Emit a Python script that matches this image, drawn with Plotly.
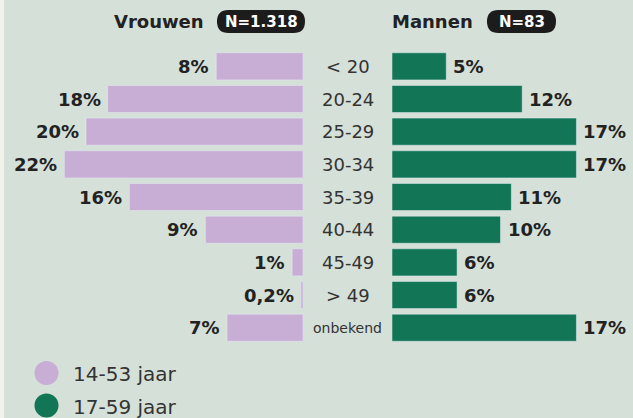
import plotly.graph_objects as go

W, H = 633, 418

categories = ["< 20", "20-24", "25-29", "30-34", "35-39", "40-44", "45-49", "> 49", "onbekend"]
vrouwen = [8, 18, 20, 22, 16, 9, 1, 0.2, 7]
mannen = [5, 12, 17, 17, 11, 10, 6, 6, 17]
title_left, n_left = "Vrouwen", "N=1.318"
title_right, n_right = "Mannen", "N=83"
legend_labels = ["14-53 jaar", "17-59 jaar"]

LAV = "#c8aed5"
GRN = "#117556"
BG = "#d5e0d8"
TXT = "#222222"
FONT = "DejaVu Sans"


def fmt(v):
    s = ("%g" % v).replace(".", ",")
    return s + "%"


def px(x):
    return x / W


def py(y):
    return 1 - y / H


scale = 10.85  # px per percent
left_end, right_start = 303, 392

fig = go.Figure()
fig.add_trace(go.Bar(y=categories, x=vrouwen, orientation="h", marker_color=LAV,
                     xaxis="x", yaxis="y", showlegend=False, hoverinfo="skip"))
fig.add_trace(go.Bar(y=categories, x=mannen, orientation="h", marker_color=GRN,
                     xaxis="x2", yaxis="y", showlegend=False, hoverinfo="skip"))

annotations = []
for c, v in zip(categories, vrouwen):
    annotations.append(dict(x=v, y=c, xref="x", yref="y", text="<b>%s</b>" % fmt(v),
                            xanchor="right", yanchor="middle", xshift=-5, showarrow=False,
                            font=dict(family=FONT, size=18, color=TXT)))
for c, v in zip(categories, mannen):
    annotations.append(dict(x=v, y=c, xref="x2", yref="y", text="<b>%s</b>" % fmt(v),
                            xanchor="left", yanchor="middle", xshift=5, showarrow=False,
                            font=dict(family=FONT, size=18, color=TXT)))
for c in categories:
    annotations.append(dict(x=px((left_end + right_start) / 2), y=c, xref="paper", yref="y",
                            text=c, xanchor="center", yanchor="middle", showarrow=False,
                            font=dict(family=FONT, size=14 if c == "onbekend" else 18, color="#333333")))

# titles
annotations.append(dict(x=px(112), y=py(22), xref="paper", yref="paper", text="<b>%s</b>" % title_left,
                        xanchor="left", yanchor="middle", showarrow=False,
                        font=dict(family=FONT, size=18, color=TXT)))
annotations.append(dict(x=px(261), y=py(22), xref="paper", yref="paper", text="<b>%s</b>" % n_left,
                        xanchor="center", yanchor="middle", showarrow=False,
                        font=dict(family=FONT, size=15, color="white")))
annotations.append(dict(x=px(390), y=py(22), xref="paper", yref="paper", text="<b>%s</b>" % title_right,
                        xanchor="left", yanchor="middle", showarrow=False,
                        font=dict(family=FONT, size=18, color=TXT)))
annotations.append(dict(x=px(521.5), y=py(22), xref="paper", yref="paper", text="<b>%s</b>" % n_right,
                        xanchor="center", yanchor="middle", showarrow=False,
                        font=dict(family=FONT, size=15, color="white")))
# legend text
for i, lab in enumerate(legend_labels):
    annotations.append(dict(x=px(71), y=py(374 + 32.5 * i), xref="paper", yref="paper", text=lab,
                            xanchor="left", yanchor="middle", showarrow=False,
                            font=dict(family=FONT, size=20, color="#333333")))


def pill(x0, x1, y0, y1, r):
    pts = [
        ("M", x0 + r, y0), ("L", x1 - r, y0), ("Q", x1, y0, x1, (y0 + y1) / 2),
        ("Q", x1, y1, x1 - r, y1), ("L", x0 + r, y1), ("Q", x0, y1, x0, (y0 + y1) / 2),
        ("Q", x0, y0, x0 + r, y0),
    ]
    s = ""
    for p in pts:
        cmd = p[0]
        coords = p[1:]
        parts = []
        for j in range(0, len(coords), 2):
            parts.append("%.5f,%.5f" % (px(coords[j]), py(coords[j + 1])))
        s += cmd + " ".join(parts) + " "
    return s + "Z"


shapes = [
    dict(type="rect", xref="paper", yref="paper", x0=0, x1=px(4), y0=0, y1=1,
         fillcolor="#f1f2ea", line_width=0, layer="below"),
    dict(type="path", xref="paper", yref="paper", path=pill(217, 305, 10, 33, 11.5),
         fillcolor="#1c1c1c", line_width=0),
    dict(type="path", xref="paper", yref="paper", path=pill(487, 556, 10, 33, 11.5),
         fillcolor="#1c1c1c", line_width=0),
]
for i, col in enumerate([LAV, GRN]):
    cy = 373 + 32.5 * i
    shapes.append(dict(type="circle", xref="paper", yref="paper",
                       x0=px(46.5 - 12), x1=px(46.5 + 12), y0=py(cy + 12), y1=py(cy - 12),
                       fillcolor=col, line_width=0))

row_top, row_pitch = 50, 32.67
fig.update_layout(
    width=W, height=H, margin=dict(l=0, r=0, t=0, b=0),
    paper_bgcolor=BG, plot_bgcolor="rgba(0,0,0,0)",
    bargap=0.17, showlegend=False,
    xaxis=dict(domain=[0, px(left_end)], range=[left_end / scale, 0], visible=False, fixedrange=True),
    xaxis2=dict(domain=[px(right_start), 1], range=[0, (W - right_start) / scale], visible=False, fixedrange=True),
    yaxis=dict(domain=[py(row_top + 9 * row_pitch), py(row_top)], autorange="reversed",
               visible=False, fixedrange=True),
    annotations=annotations, shapes=shapes,
)

fig.write_html("out.html", config={"displayModeBar": False},
               post_script="document.body.style.margin='0px';document.body.style.overflow='hidden';")
